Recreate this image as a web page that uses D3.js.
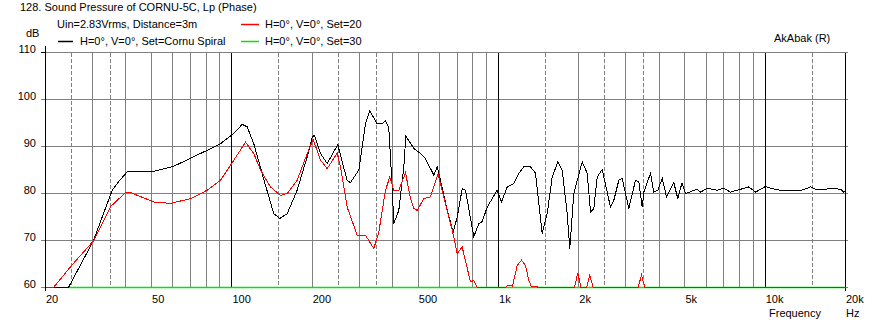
<!DOCTYPE html>
<html><head><meta charset="utf-8">
<script src="https://cdn.jsdelivr.net/npm/d3@7"></script>
<style>
body{margin:0;background:#fff;}
svg text{font-family:"Liberation Sans",Arial,sans-serif;font-size:11px;fill:#000;}
</style></head><body>
<svg id="c" width="872" height="326"></svg>
<script>
// ---- data ----
const blackFreq=[20,24.39,30.27,35.58,37.57,40.5,50.95,60.55,69.97,80.8,90.63,101.7,109.3,114.1,120.8,131.7,143.6,151.2,161.2,175.7,191.6,200.1,204.1,214.9,227.7,249.5,259.2,270.6,278.4,299.2,317.0,329.0,350.7,366.2,376.7,387.6,399.1,404.7,422.6,441.3,449.0,481.1,509.7,532.2,571.8,588.8,605.8,641.9,676.0,699.8,730.6,751.7,807.4,843.1,868.2,906.5,988.3,1025.7,1077.5,1140.7,1191,1243.6,1317.6,1375.7,1457.7,1521.9,1589,1667.8,1732.4,1808.8,1849.8,1914.8,2059,2150,2212,2276,2344,2447,2628,2704,2824,2908,3079,3262,3357,3457,3505,3714,3821,3956,4109,4264,4542,4701,4875,5024,5558,5719,6059,6605,6993,7408,8079,8678,9191,10024,10466,11410,13562,14786,15439,18341,19151,19700,20000];
const blackDb=[60,60,70,80.7,82.5,84.6,84.7,85.8,87.5,89.2,90.6,92.8,94.7,94.2,90.6,83,75.7,74.7,75.7,80.7,87.8,92.0,92.4,88.5,86.4,90.4,86.7,82.8,82.3,85.0,94.8,97.6,94.8,94.8,95.5,94,81.4,73.6,76.4,85.7,92.2,89.6,88.5,87.4,83.9,85.7,82.8,76.4,71.8,75,81,80.7,70.8,73.6,74,77.1,80.7,78.2,81.4,82.1,84.3,85.7,85.7,84.3,71.5,75.7,83.5,86.7,85,75.7,68.3,80,86.7,84.3,76.1,76.8,83.5,85.1,77.1,78.5,82.8,83.2,76.8,82.8,82.5,77.1,80.3,84.3,80.3,80.7,83.2,79.3,82.3,78.9,82.3,80,80.9,80.3,81.1,80.7,81.1,80.3,80.9,81.4,80.3,81.5,81.1,80.7,80.6,81.4,80.9,81.0,80.9,80.3,80.5];
const redFreq=[20,21.43,24.81,30.35,35.06,39.91,41.67,50.95,58.85,69.97,80.8,90.63,101.7,112.5,120.8,128.0,139.5,152.1,161.2,175.7,191.6,201.8,214.9,227.7,248.2,255.4,270.6,295.1,317.0,340.5,355.6,376.7,390.9,404.7,422.6,447.8,467.6,481.1,495.4,524.4,555.7,592.9,623.3,660.4,671.9,699.8,730.6,784.7,807.4,831.6,1061.8,1080.3,1128,1174.6,1219,1261.9,1298.4,1325.6,1375.7,1411.7,1926.5,1982,2038,2137,2199,2264,3334,3436,3541,20000];
const redDb=[60,60,64.4,70,77.2,80.2,80.2,78.2,77.9,78.9,80.7,82.8,87.1,90.9,88.5,85,81.4,79.6,80,82.8,88.5,91.5,87.1,85.3,88.6,85.7,77.1,71.1,71.1,68.3,71.8,80.7,83.5,80.7,80.7,84.4,78.9,76.8,76.4,78.9,79.3,84.2,79.3,73.6,72,67.2,68.6,61.2,61.5,60,60,60.4,60.3,64.7,65.8,64.7,61.5,60.3,60.3,60,60,63.1,60,60,62.6,60,60,62.6,60,60];
const greenFreq=[24.39,20000];
const greenDb=[60,60];
const xTickValues=[20,50,100,200,500,1000,2000,5000,10000,20000];
const xTickLabels=["20","50","100","200","500","1k","2k","5k","10k","20k"];
const yTickValues=[60,70,80,90,100,110];
const gridSolid=[30,40,50,60,70,80,90,200,300,400,500,600,700,800,900,2000,3000,4000,5000,6000,7000,8000,9000];
const gridDashed=[25,35,150,250,350,1500,2500,3500,15000];
const gridMajor=[100,1000,10000];

// ---- chart ----
const svg=d3.select("#c");
const x=d3.scaleLog().domain([20,20000]).range([45.5,845.5]);
const y=d3.scaleLinear().domain([60,110]).range([287.5,52.5]);
const grey="#808080";
const green="rgb(0,230,0)";
const px=d=>Math.round(x(d)-0.5)+0.5;

// horizontal grid
svg.append("g").selectAll("line").data(yTickValues).join("line")
  .attr("x1",41).attr("x2",848).attr("y1",d=>y(d)).attr("y2",d=>y(d))
  .attr("stroke",grey).attr("shape-rendering","crispEdges");
// vertical grid
svg.append("g").selectAll("line").data(gridSolid).join("line")
  .attr("x1",px).attr("x2",px)
  .attr("y1",y(110)).attr("y2",y(60)).attr("stroke",grey).attr("shape-rendering","crispEdges");
svg.append("g").selectAll("line").data(gridDashed).join("line")
  .attr("x1",px).attr("x2",px)
  .attr("y1",y(110)).attr("y2",y(60)).attr("stroke",grey).attr("stroke-dasharray","4,2")
  .attr("shape-rendering","crispEdges");
svg.append("g").selectAll("line").data(gridMajor).join("line")
  .attr("x1",px).attr("x2",px)
  .attr("y1",y(110)).attr("y2",y(60)).attr("stroke","#000").attr("shape-rendering","crispEdges");
// axes borders
svg.append("line").attr("x1",x(20)).attr("x2",x(20)).attr("y1",46).attr("y2",291)
  .attr("stroke","#000").attr("shape-rendering","crispEdges");
svg.append("line").attr("x1",x(20000)).attr("x2",x(20000)).attr("y1",y(110)).attr("y2",291)
  .attr("stroke","#000").attr("shape-rendering","crispEdges");
svg.append("line").attr("x1",41).attr("x2",x(20)).attr("y1",y(110)).attr("y2",y(110))
  .attr("stroke","#000").attr("shape-rendering","crispEdges");

// curves
const line=d3.line().x(d=>x(d[0])).y(d=>y(d[1]));
// green series (flat at floor)
svg.append("line")
  .attr("x1",x(greenFreq[0])).attr("x2",x(greenFreq[1]))
  .attr("y1",y(greenDb[0])).attr("y2",y(greenDb[1]))
  .style("stroke",green).style("stroke-width","1.5px");
const series=[
  {f:blackFreq,v:blackDb,c:"#000000"},
  {f:redFreq,v:redDb,c:"#ff0000"}
];
series.forEach(s=>{
  svg.append("path").datum(s.f.map((f,i)=>[f,s.v[i]]))
    .attr("d",line).attr("fill","none").attr("stroke",s.c).attr("stroke-width",1)
    .attr("shape-rendering","crispEdges");
});

// x axis labels
const gx=svg.append("g").attr("transform","translate(0,303)")
  .call(d3.axisBottom(x).tickValues(xTickValues).tickFormat((d,i)=>xTickLabels[i]).tickSize(0));
gx.select(".domain").remove();
gx.attr("font-size",null).attr("font-family",null);
gx.selectAll("text").attr("y",0).attr("dy",0).attr("text-anchor","start").attr("fill","#000");

// y axis labels
const gy=svg.append("g").attr("transform","translate(36,-0.5)")
  .call(d3.axisLeft(y).tickValues(yTickValues).tickSize(0).tickPadding(0));
gy.select(".domain").remove();
gy.attr("font-size",null).attr("font-family",null);
gy.selectAll("text").attr("x",0).attr("dy",0).attr("text-anchor","end").attr("fill","#000");

// texts
const T=(t,xx,yy,a)=>svg.append("text").attr("x",xx).attr("y",yy).attr("text-anchor",a||"start").text(t);
T("128. Sound Pressure of CORNU-5C, Lp (Phase)",20,11);
T("Uin=2.83Vrms, Distance=3m",57,28);
T("dB",26,37);
T("H=0°, V=0°, Set=Cornu Spiral",80,45);
T("H=0°, V=0°, Set=20",265,28);
T("H=0°, V=0°, Set=30",265,45);
T("AkAbak (R)",774,42);
T("Frequency",769,317);
T("Hz",846,317);
// legend swatches
const L=(x1,x2,yy,c)=>svg.append("line").attr("x1",x1).attr("x2",x2).attr("y1",yy).attr("y2",yy)
  .style("stroke",c).style("stroke-width","1.5px");
L(58,73,41.5,"#000000");
L(241,259,24.5,"#ff0000");
L(241,259,41.5,green);
</script></body></html>
